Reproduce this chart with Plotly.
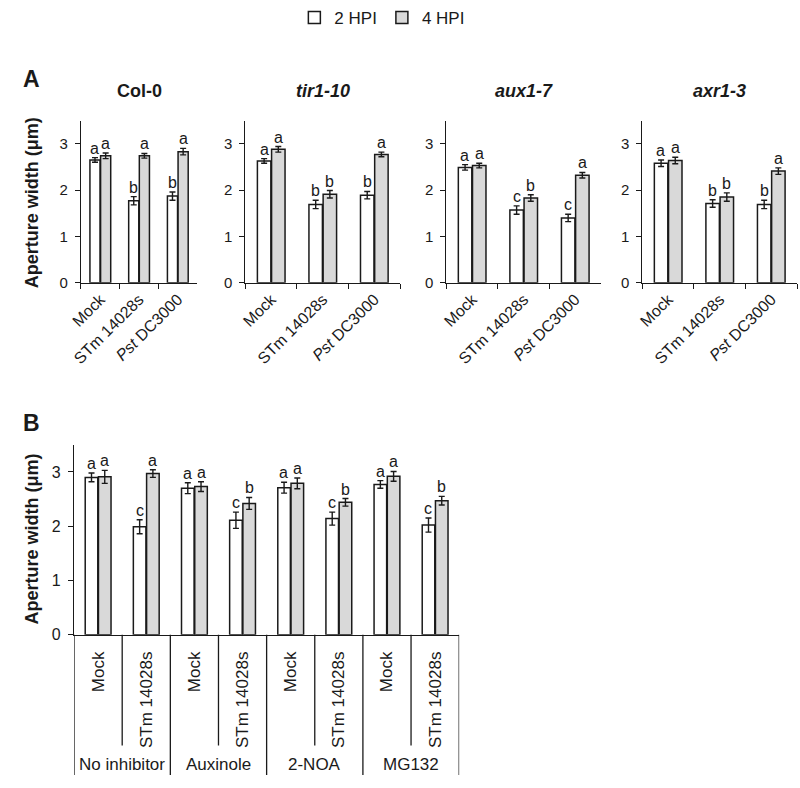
import plotly.graph_objects as go

W, H = 800, 788
series_names = ["2 HPI", "4 HPI"]
fill_colors = ["#ffffff", "#d9d9d9"]

# ---------------- Panel A data ----------------
a_titles = ["<b>Col-0</b>", "<b><i>tir1-10</i></b>", "<b><i>aux1-7</i></b>", "<b><i>axr1-3</i></b>"]
a_categories = ["Mock", "STm 14028s", "<i>Pst</i> DC3000"]

col0_2hpi = [2.65, 1.77, 1.87]
col0_2hpi_err = [0.05, 0.09, 0.09]
col0_4hpi = [2.74, 2.74, 2.83]
col0_4hpi_err = [0.06, 0.05, 0.07]
col0_letters_2 = ["a", "b", "b"]
col0_letters_4 = ["a", "a", "a"]

tir_2hpi = [2.63, 1.69, 1.89]
tir_2hpi_err = [0.05, 0.09, 0.08]
tir_4hpi = [2.88, 1.91, 2.77]
tir_4hpi_err = [0.06, 0.08, 0.05]
tir_letters_2 = ["a", "b", "b"]
tir_letters_4 = ["a", "b", "a"]

aux_2hpi = [2.49, 1.57, 1.40]
aux_2hpi_err = [0.06, 0.09, 0.08]
aux_4hpi = [2.53, 1.83, 2.32]
aux_4hpi_err = [0.05, 0.07, 0.06]
aux_letters_2 = ["a", "c", "c"]
aux_letters_4 = ["a", "b", "a"]

axr_2hpi = [2.58, 1.71, 1.69]
axr_2hpi_err = [0.07, 0.08, 0.09]
axr_4hpi = [2.64, 1.85, 2.41]
axr_4hpi_err = [0.07, 0.09, 0.07]
axr_letters_2 = ["a", "b", "b"]
axr_letters_4 = ["a", "b", "a"]

# ---------------- Panel B data ----------------
b_groups = ["No inhibitor", "Auxinole", "2-NOA", "MG132"]
b_treatments = ["Mock", "STm 14028s"]
b_2hpi = [2.90, 1.99, 2.70, 2.11, 2.71, 2.14, 2.77, 2.02]
b_2hpi_err = [0.08, 0.13, 0.10, 0.15, 0.10, 0.12, 0.07, 0.13]
b_4hpi = [2.91, 2.97, 2.73, 2.42, 2.79, 2.44, 2.92, 2.47]
b_4hpi_err = [0.12, 0.07, 0.09, 0.11, 0.10, 0.07, 0.09, 0.08]
b_letters_2 = ["a", "c", "a", "c", "a", "c", "a", "c"]
b_letters_4 = ["a", "a", "a", "b", "a", "b", "a", "b"]

# ---------------- layout geometry (pixels) ----------------
FONT = "Liberation Sans, Arial, sans-serif"
INK = "#1a1a1a"
BARGAP = 0.45
a_xpx = [(70, 188), (237, 394), (441, 598), (640, 797)]
a_ypx = (122, 286)
b_xpx = (63, 454)
b_ypx = (450, 642)

def px2x(p):
    return p / W

def px2y(p):
    return 1 - p / H

a_data = [
    (col0_2hpi, col0_2hpi_err, col0_4hpi, col0_4hpi_err, col0_letters_2, col0_letters_4),
    (tir_2hpi, tir_2hpi_err, tir_4hpi, tir_4hpi_err, tir_letters_2, tir_letters_4),
    (aux_2hpi, aux_2hpi_err, aux_4hpi, aux_4hpi_err, aux_letters_2, aux_letters_4),
    (axr_2hpi, axr_2hpi_err, axr_4hpi, axr_4hpi_err, axr_letters_2, axr_letters_4),
]

fig = go.Figure()
annotations = []
shapes = []
layout = {}

def add_bars(xvals, v2, e2, v4, e4, xa, ya, show):
    for i, (vals, errs) in enumerate([(v2, e2), (v4, e4)]):
        fig.add_trace(go.Bar(
            x=xvals, y=vals, name=series_names[i],
            marker=dict(color=fill_colors[i], line=dict(color=INK, width=1.5)),
            error_y=dict(type="data", array=errs, color=INK, thickness=1.4, width=3),
            xaxis=xa, yaxis=ya, showlegend=show, legendgroup=series_names[i],
        ))

def add_letters(xvals, v2, e2, v4, e4, l2, l4, xref, yref, catpx):
    off = (1 - BARGAP) / 4 * catpx
    for j, x in enumerate(xvals):
        for vals, errs, letters, sgn in [(v2, e2, l2, -1), (v4, e4, l4, 1)]:
            annotations.append(dict(
                x=x, y=vals[j] + errs[j], xref=xref, yref=yref, text=letters[j],
                showarrow=False, xshift=sgn * off, xanchor="center",
                yanchor="bottom", yshift=-1,
                font=dict(family=FONT, size=16, color=INK),
            ))

axis_common = dict(showline=True, linecolor=INK, linewidth=1.3, showgrid=False,
                   zeroline=False, tickcolor=INK, tickwidth=1.3)

for k in range(4):
    n = k + 1
    xa = "x" if n == 1 else f"x{n}"
    ya = "y" if n == 1 else f"y{n}"
    v2, e2, v4, e4, l2, l4 = a_data[k]
    add_bars(a_categories, v2, e2, v4, e4, xa, ya, k == 0)
    x0, x1 = a_xpx[k]
    layout[f"xaxis{'' if n == 1 else n}"] = dict(
        axis_common, domain=[px2x(x0), px2x(x1)], anchor=ya, type="category",
        ticks="outside", ticklen=5, tickson="boundaries", tickangle=-45,
        range=[-0.5, 2.5], tickfont=dict(family=FONT, size=16, color=INK),
    )
    layout[f"yaxis{'' if n == 1 else n}"] = dict(
        axis_common, domain=[px2y(a_ypx[1]), px2y(a_ypx[0])], anchor=xa,
        range=[0, 3.5], tickvals=[0, 1, 2, 3], ticks="outside", ticklen=5,
        ticklabelstandoff=4, tickfont=dict(family=FONT, size=15, color=INK),
    )
    add_letters(a_categories, v2, e2, v4, e4, l2, l4, xa, ya, (x1 - x0) / 3)
    annotations.append(dict(
        x=px2x((x0 + x1) / 2), y=px2y(92), xref="paper", yref="paper",
        text=a_titles[k], showarrow=False, xanchor="center", yanchor="middle",
        font=dict(family=FONT, size=18, color=INK),
    ))

# Panel B
bx = list(range(len(b_2hpi)))
b_ticktext = [b_treatments[i % 2] for i in bx]
add_bars(bx, b_2hpi, b_2hpi_err, b_4hpi, b_4hpi_err, "x5", "y5", False)
layout["xaxis5"] = dict(
    axis_common, domain=[px2x(b_xpx[0]), px2x(b_xpx[1])], anchor="y5",
    range=[-0.5, len(bx) - 0.5], tickvals=bx, ticktext=b_ticktext, tickangle=-90,
    ticks="", ticklabelstandoff=9, tickfont=dict(family=FONT, size=17, color=INK),
)
layout["yaxis5"] = dict(
    axis_common, domain=[px2y(b_ypx[1]), px2y(b_ypx[0])], anchor="x5",
    range=[0, 3.5], tickvals=[0, 1, 2, 3], ticks="outside", ticklen=5,
    ticklabelstandoff=4, tickfont=dict(family=FONT, size=16, color=INK),
)
add_letters(bx, b_2hpi, b_2hpi_err, b_4hpi, b_4hpi_err, b_letters_2, b_letters_4,
            "x5", "y5", (b_xpx[1] - b_xpx[0]) / len(bx))

# separators under panel B's axis
for i in range(len(bx) + 1):
    xb = i - 0.5
    bottom = 784 if i % 2 == 0 else 754
    shapes.append(dict(type="line", xref="x5", yref="paper", x0=xb, x1=xb,
                       y0=px2y(b_ypx[1]), y1=px2y(bottom),
                       line=dict(color=INK, width=1.3)))
for g, name in enumerate(b_groups):
    annotations.append(dict(
        x=2 * g + 0.5, y=px2y(773), xref="x5", yref="paper", text=name,
        showarrow=False, xanchor="center", yanchor="middle",
        font=dict(family=FONT, size=17, color=INK),
    ))

# panel letters and y titles
for txt, ypx in [("A", 80), ("B", 428)]:
    annotations.append(dict(x=px2x(20), y=px2y(ypx), xref="paper", yref="paper",
                            text=f"<b>{txt}</b>", showarrow=False,
                            xanchor="center", yanchor="middle",
                            font=dict(family=FONT, size=23, color=INK)))
for ypx in [205, 545]:
    annotations.append(dict(x=px2x(20), y=px2y(ypx), xref="paper", yref="paper",
                            text="<b>Aperture width (μm)</b>", showarrow=False,
                            textangle=-90, xanchor="center", yanchor="middle",
                            font=dict(family=FONT, size=18, color=INK)))

fig.update_layout(
    width=W, height=H, margin=dict(l=0, r=0, t=0, b=0),
    paper_bgcolor="white", plot_bgcolor="white",
    barmode="group", bargap=BARGAP, bargroupgap=0.05,
    showlegend=True,
    legend=dict(orientation="h", x=0.47, xanchor="center", y=1.0, yanchor="top",
                font=dict(family=FONT, size=17, color=INK),
                itemwidth=30, bgcolor="rgba(0,0,0,0)"),
    annotations=annotations, shapes=shapes,
    **layout,
)

fig.write_html("out.html")
